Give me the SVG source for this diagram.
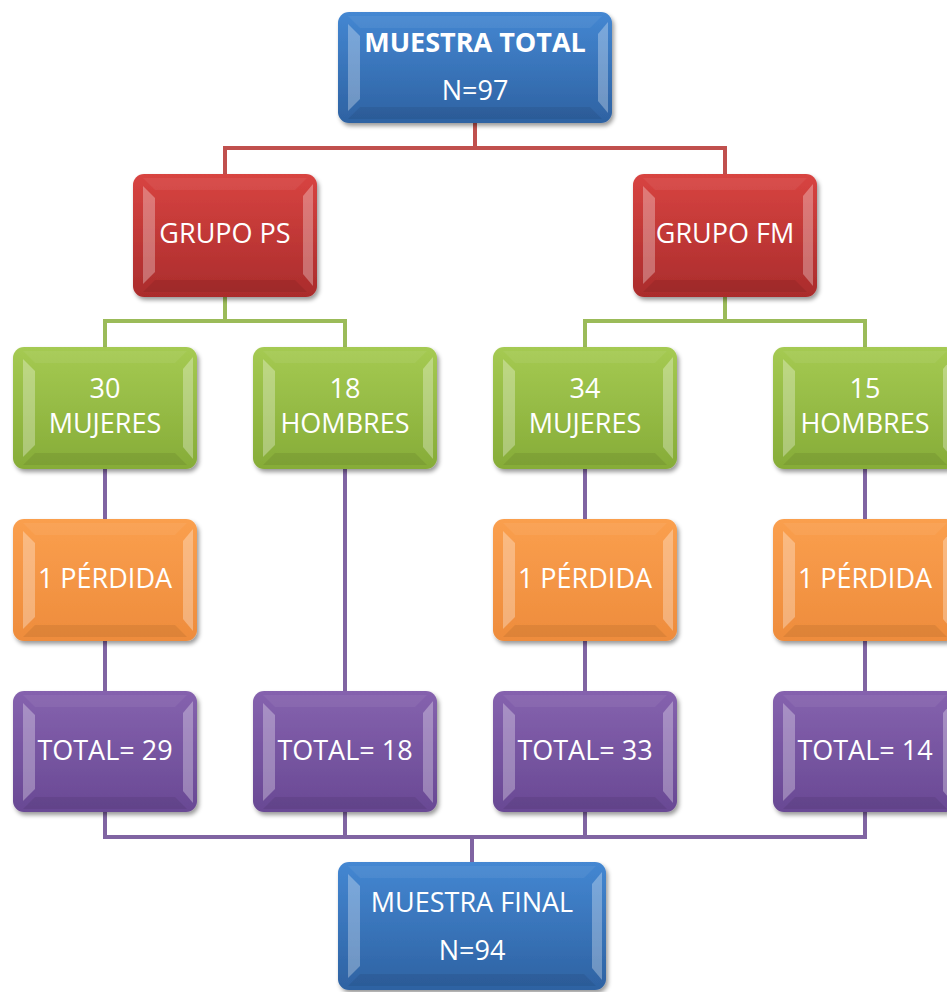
<svg xmlns="http://www.w3.org/2000/svg" xmlns:xlink="http://www.w3.org/1999/xlink" width="947" height="992" viewBox="0 0 947 992">
<style>
text{font-family:"Open Sans","Liberation Sans",sans-serif;font-size:27px;fill:#ffffff;text-anchor:middle}
.b{font-weight:bold}
.hl{fill:#ffffff;opacity:0.3}
.tp{fill:#ffffff;opacity:0.06}
.bt{fill:#000000;opacity:0.07}
.line{fill:none;stroke-width:4}
.lr{stroke:#c0504d}
.lg{stroke:#9bbb59}
.lp{stroke:#8064a2}
</style>
<defs>
<filter id="sh" x="-10%" y="-10%" width="125%" height="130%">
<feDropShadow dx="2" dy="3" stdDeviation="2" flood-color="#000" flood-opacity="0.4"/>
</filter>
<linearGradient id="gBlue" x1="0" y1="0" x2="0" y2="1"><stop offset="0" stop-color="#4487d2"/><stop offset="1" stop-color="#2e62a2"/></linearGradient>
<linearGradient id="gRed" x1="0" y1="0" x2="0" y2="1"><stop offset="0" stop-color="#d84441"/><stop offset="1" stop-color="#aa2c2c"/></linearGradient>
<linearGradient id="gGreen" x1="0" y1="0" x2="0" y2="1"><stop offset="0" stop-color="#a5ca52"/><stop offset="1" stop-color="#86ac38"/></linearGradient>
<linearGradient id="gOrange" x1="0" y1="0" x2="0" y2="1"><stop offset="0" stop-color="#fa9f4e"/><stop offset="1" stop-color="#ee8c3c"/></linearGradient>
<linearGradient id="gPurple" x1="0" y1="0" x2="0" y2="1"><stop offset="0" stop-color="#8562ae"/><stop offset="1" stop-color="#694994"/></linearGradient>
<g id="bev">
<polygon class="tp" points="10,4 174,4 162,16 22,16"/>
<polygon class="bt" points="22,106 162,106 174,118 10,118"/>
<polygon class="hl" points="10,12 22,24 22,98 10,110"/>
<polygon class="hl" points="180,10 170,22 170,100 180,112"/>
</g>
</defs>

<g id="connectors">
<polyline class="line lr" points="475,123 475,148 225,148 225,174"/>
<polyline class="line lr" points="475,148 725,148 725,174"/>
<polyline class="line lg" points="225,297 225,321 105,321 105,347"/>
<polyline class="line lg" points="225,321 345,321 345,347"/>
<polyline class="line lg" points="725,297 725,321 585,321 585,347"/>
<polyline class="line lg" points="725,321 865,321 865,347"/>
<line class="line lp" x1="105" y1="469" x2="105" y2="519"/>
<line class="line lp" x1="105" y1="641" x2="105" y2="691"/>
<line class="line lp" x1="345" y1="469" x2="345" y2="691"/>
<line class="line lp" x1="585" y1="469" x2="585" y2="519"/>
<line class="line lp" x1="585" y1="641" x2="585" y2="691"/>
<line class="line lp" x1="865" y1="469" x2="865" y2="519"/>
<line class="line lp" x1="865" y1="641" x2="865" y2="691"/>
<polyline class="line lp" points="105,812 105,837 865,837 865,812"/>
<line class="line lp" x1="345" y1="812" x2="345" y2="837"/>
<line class="line lp" x1="585" y1="812" x2="585" y2="837"/>
<line class="line lp" x1="472" y1="837" x2="472" y2="862"/>
</g>

<g id="n-total" transform="translate(338,12)">
<rect width="274" height="111" rx="11" fill="url(#gBlue)" filter="url(#sh)"/>
<polygon class="tp" points="10,4 264,4 252,16 22,16"/>
<polygon class="bt" points="22,95 252,95 264,107 10,107"/>
<polygon class="hl" points="10,12 22,24 22,87 10,99"/>
<polygon class="hl" points="270,10 260,22 260,89 270,101"/>
<text class="b" x="137" y="40">MUESTRA TOTAL</text>
<text x="137" y="88">N=97</text>
</g>

<g id="n-ps" transform="translate(133,174)">
<rect width="184" height="123" rx="11" fill="url(#gRed)" filter="url(#sh)"/>
<use xlink:href="#bev"/>
<text x="92" y="69">GRUPO PS</text>
</g>
<g id="n-fm" transform="translate(633,174)">
<rect width="184" height="123" rx="11" fill="url(#gRed)" filter="url(#sh)"/>
<use xlink:href="#bev"/>
<text x="92" y="69">GRUPO FM</text>
</g>

<g id="n-ps-m" transform="translate(13,347)">
<rect width="184" height="122" rx="11" fill="url(#gGreen)" filter="url(#sh)"/>
<use xlink:href="#bev"/>
<text x="92" y="51">30</text>
<text x="92" y="86">MUJERES</text>
</g>
<g id="n-ps-h" transform="translate(253,347)">
<rect width="184" height="122" rx="11" fill="url(#gGreen)" filter="url(#sh)"/>
<use xlink:href="#bev"/>
<text x="92" y="51">18</text>
<text x="92" y="86">HOMBRES</text>
</g>
<g id="n-fm-m" transform="translate(493,347)">
<rect width="184" height="122" rx="11" fill="url(#gGreen)" filter="url(#sh)"/>
<use xlink:href="#bev"/>
<text x="92" y="51">34</text>
<text x="92" y="86">MUJERES</text>
</g>
<g id="n-fm-h" transform="translate(773,347)">
<rect width="184" height="122" rx="11" fill="url(#gGreen)" filter="url(#sh)"/>
<use xlink:href="#bev"/>
<text x="92" y="51">15</text>
<text x="92" y="86">HOMBRES</text>
</g>

<g id="n-loss1" transform="translate(13,519)">
<rect width="184" height="122" rx="11" fill="url(#gOrange)" filter="url(#sh)"/>
<use xlink:href="#bev"/>
<text x="92" y="69">1 PÉRDIDA</text>
</g>
<g id="n-loss2" transform="translate(493,519)">
<rect width="184" height="122" rx="11" fill="url(#gOrange)" filter="url(#sh)"/>
<use xlink:href="#bev"/>
<text x="92" y="69">1 PÉRDIDA</text>
</g>
<g id="n-loss3" transform="translate(773,519)">
<rect width="184" height="122" rx="11" fill="url(#gOrange)" filter="url(#sh)"/>
<use xlink:href="#bev"/>
<text x="92" y="69">1 PÉRDIDA</text>
</g>

<g id="n-t29" transform="translate(13,691)">
<rect width="184" height="121" rx="11" fill="url(#gPurple)" filter="url(#sh)"/>
<use xlink:href="#bev"/>
<text x="92" y="69">TOTAL= 29</text>
</g>
<g id="n-t18" transform="translate(253,691)">
<rect width="184" height="121" rx="11" fill="url(#gPurple)" filter="url(#sh)"/>
<use xlink:href="#bev"/>
<text x="92" y="69">TOTAL= 18</text>
</g>
<g id="n-t33" transform="translate(493,691)">
<rect width="184" height="121" rx="11" fill="url(#gPurple)" filter="url(#sh)"/>
<use xlink:href="#bev"/>
<text x="92" y="69">TOTAL= 33</text>
</g>
<g id="n-t14" transform="translate(773,691)">
<rect width="184" height="121" rx="11" fill="url(#gPurple)" filter="url(#sh)"/>
<use xlink:href="#bev"/>
<text x="92" y="69">TOTAL= 14</text>
</g>

<g id="n-final" transform="translate(338,862)">
<rect width="268" height="128" rx="11" fill="url(#gBlue)" filter="url(#sh)"/>
<polygon class="tp" points="10,4 258,4 246,16 22,16"/>
<polygon class="bt" points="22,112 246,112 258,124 10,124"/>
<polygon class="hl" points="10,12 22,24 22,104 10,116"/>
<polygon class="hl" points="264,10 254,22 254,106 264,118"/>
<text x="134" y="50">MUESTRA FINAL</text>
<text x="134" y="98">N=94</text>
</g>
</svg>
